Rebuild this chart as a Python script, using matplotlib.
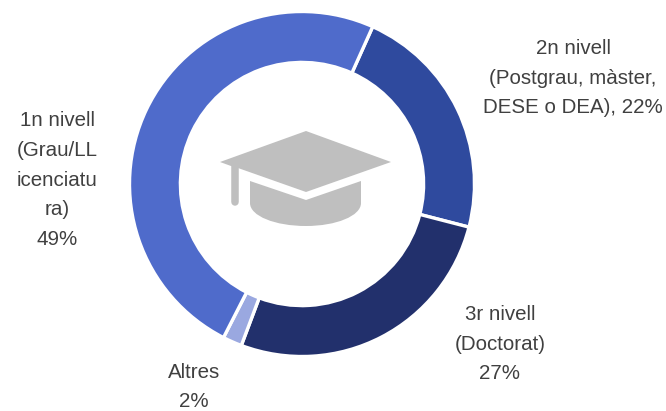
import matplotlib
matplotlib.use('Agg')
import matplotlib.pyplot as plt
from matplotlib.patches import Polygon, PathPatch
from matplotlib.path import Path

labels = ['2n nivell\n(Postgrau, màster,\nDESE o DEA), 22%', '3r nivell\n(Doctorat)\n27%', 'Altres\n2%',
          '1n nivell\n(Grau/LL\nicenciatu\nra)\n49%']
values = [22.3, 26.7, 1.8, 49.2]
colors = ['#2f4a9e', '#22306c', '#9aa8e0', '#4f6bcb']
label_pos = [(573, 78), (500, 344), (194, 387), (57, 180)]

plt.rcParams['font.family'] = ['Liberation Sans', 'DejaVu Sans']

fig = plt.figure(figsize=(6.66, 4.11), dpi=100)
ax = fig.add_axes([0, 0, 1, 1])
ax.set_xlim(0, 666)
ax.set_ylim(411, 0)
ax.axis('off')

# donut
ax_pie = fig.add_axes([129.5 / 666, 1 - 356.5 / 411, 345 / 666, 345 / 411])
ax_pie.pie(values, colors=colors, startangle=65.8, counterclock=False, radius=1,
           wedgeprops=dict(width=0.295, edgecolor='white', linewidth=2.4))
ax_pie.set_xlim(-1, 1)
ax_pie.set_ylim(-1, 1)

for lab, (x, y) in zip(labels, label_pos):
    ax.text(x, y, lab, ha='center', va='center', fontsize=14.8, color='#404040', linespacing=1.72)

# graduation cap icon
grey = '#bfbfbf'
ax.plot([234.5, 234.5], [165, 202], color=grey, lw=5.4, solid_capstyle='round')
ax.add_patch(Polygon([(220, 162), (306, 131), (391, 162), (306, 192), (238, 168), (231, 166)],
                     closed=True, fc=grey, ec='none'))
body = Path([(250, 181), (306, 200), (361, 181), (361, 203), (361, 216), (336, 226), (306, 226),
             (275, 226), (250, 216), (250, 203), (250, 181)],
            [Path.MOVETO, Path.LINETO, Path.LINETO, Path.LINETO, Path.CURVE4, Path.CURVE4, Path.CURVE4,
             Path.CURVE4, Path.CURVE4, Path.CURVE4, Path.CLOSEPOLY])
ax.add_patch(PathPatch(body, fc=grey, ec='none'))

fig.savefig('out.png', dpi=100)
